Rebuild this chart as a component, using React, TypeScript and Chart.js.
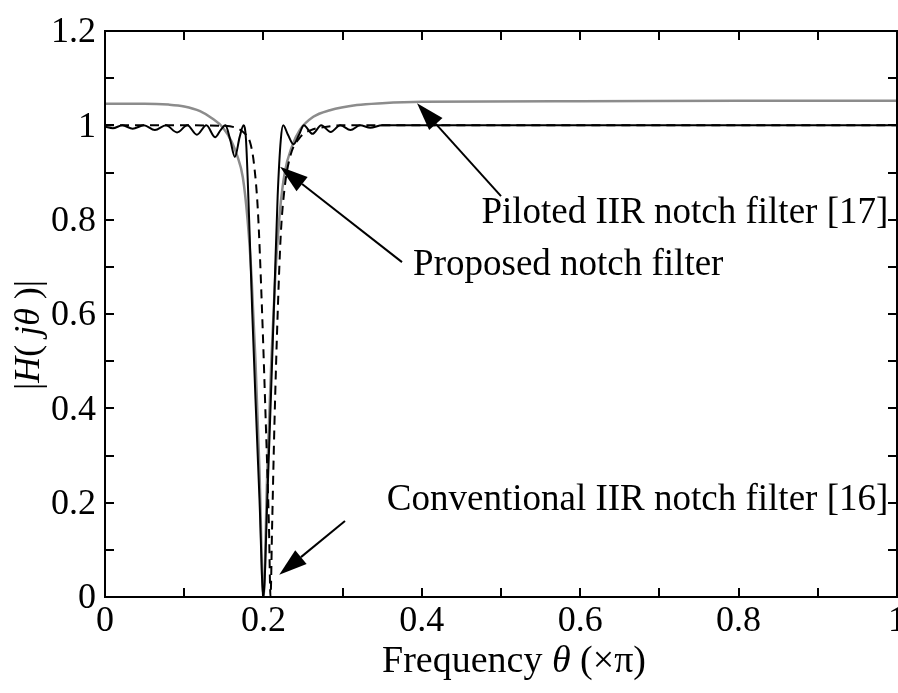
import React, { useEffect, useRef } from "react";
import { Chart, registerables } from "chart.js";
Chart.register(...registerables);

// ---- data ----
const solidTheta = [0, 0.01, 0.022, 0.035, 0.049, 0.063, 0.077, 0.091, 0.104, 0.116, 0.128, 0.139, 0.146, 0.152, 0.158, 0.164, 0.17, 0.175, 0.178, 0.182, 0.186, 0.19, 0.195, 0.2, 0.205, 0.21, 0.214, 0.218, 0.222, 0.225, 0.231, 0.238, 0.245, 0.251, 0.262, 0.273, 0.285, 0.297, 0.31, 0.322, 0.335, 0.35, 0.4, 0.6, 0.8, 1.0];
const solidMag = [0.997, 0.994, 1.0, 0.993, 1.0, 0.99, 1.0, 0.985, 1.0, 0.98, 1.0, 0.975, 0.99, 1.0, 0.97, 0.933, 0.975, 1.0, 0.97, 0.8, 0.6, 0.42, 0.21, 0.0, 0.21, 0.45, 0.65, 0.85, 0.97, 1.0, 0.98, 0.96, 0.98, 1.0, 0.982, 1.0, 0.986, 1.0, 0.99, 1.0, 0.995, 1.0, 1.0, 1.0, 1.0, 1.0];

const dashedTheta = [0, 0.1, 0.15, 0.165, 0.175, 0.183, 0.188, 0.193, 0.198, 0.203, 0.207, 0.209, 0.211, 0.214, 0.218, 0.222, 0.227, 0.234, 0.245, 0.26, 0.28, 0.3, 0.5, 1.0];
const dashedMag = [1.0, 1.0, 0.999, 0.995, 0.985, 0.965, 0.92, 0.82, 0.62, 0.37, 0.15, 0.0, 0.15, 0.37, 0.6, 0.77, 0.87, 0.935, 0.972, 0.99, 0.997, 1.0, 1.0, 1.0];

const grayTheta = [0, 0.05, 0.08, 0.1, 0.12, 0.135, 0.149, 0.16, 0.167, 0.174, 0.18, 0.185, 0.19, 0.195, 0.2, 0.205, 0.21, 0.215, 0.221, 0.227, 0.236, 0.246, 0.263, 0.284, 0.318, 0.35, 0.4, 0.6, 0.8, 1.0];
const grayMag = [1.046, 1.046, 1.044, 1.04, 1.03, 1.015, 0.995, 0.965, 0.935, 0.89, 0.8, 0.68, 0.5, 0.27, 0.0, 0.27, 0.5, 0.68, 0.82, 0.9, 0.955, 0.99, 1.018, 1.032, 1.043, 1.047, 1.05, 1.051, 1.052, 1.052];

const xTickValues = [0, 0.2, 0.4, 0.6, 0.8, 1];
const xTickLabels = ["0", "0.2", "0.4", "0.6", "0.8", "1"];
const yTickValues = [0, 0.2, 0.4, 0.6, 0.8, 1, 1.2];
const yTickLabels = ["0", "0.2", "0.4", "0.6", "0.8", "1", "1.2"];
const minorStep = 0.1;

const annotations = [
  { text: "Piloted IIR notch filter [17]", align: "right", tx: 0.989, ty: 0.814, tail: [0.5, 0.85], tip: [0.394, 1.047] },
  { text: "Proposed notch filter", align: "left", tx: 0.389, ty: 0.704, tail: [0.375, 0.71], tip: [0.221, 0.912] },
  { text: "Conventional IIR notch filter [16]", align: "right", tx: 0.989, ty: 0.204, tail: [0.303, 0.161], tip: [0.22, 0.047] },
];

const FONT = '"Liberation Serif", "Times New Roman", serif';

function pts(xs: number[], ys: number[]) {
  return xs.map((x, i) => ({ x, y: ys[i] }));
}

type Part = { t: string; it?: boolean };
function drawRich(ctx: CanvasRenderingContext2D, parts: Part[], x: number, y: number, size: number) {
  let total = 0;
  const widths = parts.map((p) => {
    ctx.font = `${p.it ? "italic " : ""}${size}px ${FONT}`;
    const w = ctx.measureText(p.t).width;
    total += w;
    return w;
  });
  let cx = x - total / 2;
  ctx.textAlign = "left";
  ctx.textBaseline = "middle";
  parts.forEach((p, i) => {
    ctx.font = `${p.it ? "italic " : ""}${size}px ${FONT}`;
    ctx.fillText(p.t, cx, y);
    cx += widths[i];
  });
}

const framePlugin = {
  id: "frame",
  afterDraw(chart: any) {
    const ctx: CanvasRenderingContext2D = chart.ctx;
    const { left, right, top, bottom } = chart.chartArea;
    const xs = chart.scales.x;
    const ys = chart.scales.y;
    ctx.save();
    ctx.strokeStyle = "#000";
    ctx.fillStyle = "#000";
    ctx.lineWidth = 2;
    ctx.strokeRect(left, top, right - left, bottom - top);
    const tl = 9;
    ctx.beginPath();
    for (let v = 0; v <= 1.0001; v += minorStep) {
      const px = Math.round(xs.getPixelForValue(v));
      ctx.moveTo(px, bottom); ctx.lineTo(px, bottom - tl);
      ctx.moveTo(px, top); ctx.lineTo(px, top + tl);
    }
    for (let v = 0; v <= 1.2001; v += minorStep) {
      const py = Math.round(ys.getPixelForValue(v));
      ctx.moveTo(left, py); ctx.lineTo(left + tl, py);
      ctx.moveTo(right, py); ctx.lineTo(right - tl, py);
    }
    ctx.stroke();

    ctx.font = `36px ${FONT}`;
    ctx.textAlign = "center";
    ctx.textBaseline = "top";
    xTickValues.forEach((v, i) => {
      ctx.fillText(xTickLabels[i], xs.getPixelForValue(v), bottom + 7);
    });
    ctx.textAlign = "right";
    ctx.textBaseline = "middle";
    yTickValues.forEach((v, i) => {
      ctx.fillText(yTickLabels[i], left - 9, ys.getPixelForValue(v) + 2);
    });

    // axis titles
    drawRich(ctx, [{ t: "Frequency " }, { t: "θ", it: true }, { t: " (×π)" }], 514, bottom + 65, 38);
    ctx.save();
    ctx.translate(30, 335);
    ctx.rotate(-Math.PI / 2);
    drawRich(ctx, [{ t: "|" }, { t: "H", it: true }, { t: "( " }, { t: "jθ", it: true }, { t: " )|" }], 0, 0, 36);
    ctx.restore();

    // annotations
    annotations.forEach((a) => {
      const x1 = xs.getPixelForValue(a.tail[0]);
      const y1 = ys.getPixelForValue(a.tail[1]);
      const x2 = xs.getPixelForValue(a.tip[0]);
      const y2 = ys.getPixelForValue(a.tip[1]);
      const ang = Math.atan2(y2 - y1, x2 - x1);
      const hl = 28, hw = 9;
      const bx = x2 - hl * Math.cos(ang);
      const by = y2 - hl * Math.sin(ang);
      ctx.lineWidth = 2;
      ctx.beginPath();
      ctx.moveTo(x1, y1);
      ctx.lineTo(bx, by);
      ctx.stroke();
      ctx.beginPath();
      ctx.moveTo(x2, y2);
      ctx.lineTo(bx + hw * Math.sin(ang), by - hw * Math.cos(ang));
      ctx.lineTo(bx - hw * Math.sin(ang), by + hw * Math.cos(ang));
      ctx.closePath();
      ctx.fill();
      ctx.font = `37px ${FONT}`;
      ctx.textAlign = a.align as CanvasTextAlign;
      ctx.textBaseline = "middle";
      ctx.fillText(a.text, xs.getPixelForValue(a.tx), ys.getPixelForValue(a.ty));
    });
    ctx.restore();
  },
};

export default function App() {
  const ref = useRef<HTMLCanvasElement | null>(null);
  useEffect(() => {
    if (!ref.current) return;
    const chart = new Chart(ref.current, {
      type: "line",
      data: {
        datasets: [
          { data: pts(solidTheta, solidMag), borderColor: "#000", borderWidth: 2, cubicInterpolationMode: "monotone", pointRadius: 0 },
          { data: pts(dashedTheta, dashedMag), borderColor: "#000", borderWidth: 2, borderDash: [9, 6], cubicInterpolationMode: "monotone", pointRadius: 0 },
          { data: pts(grayTheta, grayMag), borderColor: "#8c8c8c", borderWidth: 2.5, cubicInterpolationMode: "monotone", pointRadius: 0 },
        ],
      } as any,
      options: {
        responsive: false,
        animation: false,
        layout: { padding: { left: 105, top: 31, right: 1, bottom: 96 } },
        scales: {
          x: { type: "linear", min: 0, max: 1, display: false },
          y: { min: 0, max: 1.2, display: false },
        },
        plugins: { legend: { display: false }, tooltip: { enabled: false } },
      } as any,
      plugins: [framePlugin],
    });
    return () => chart.destroy();
  }, []);
  return (
    <div style={{ position: "absolute", left: 0, top: 0, width: 898, height: 693, background: "#fff" }}>
      <canvas ref={ref} width={898} height={693} style={{ width: 898, height: 693, display: "block" }} />
    </div>
  );
}
